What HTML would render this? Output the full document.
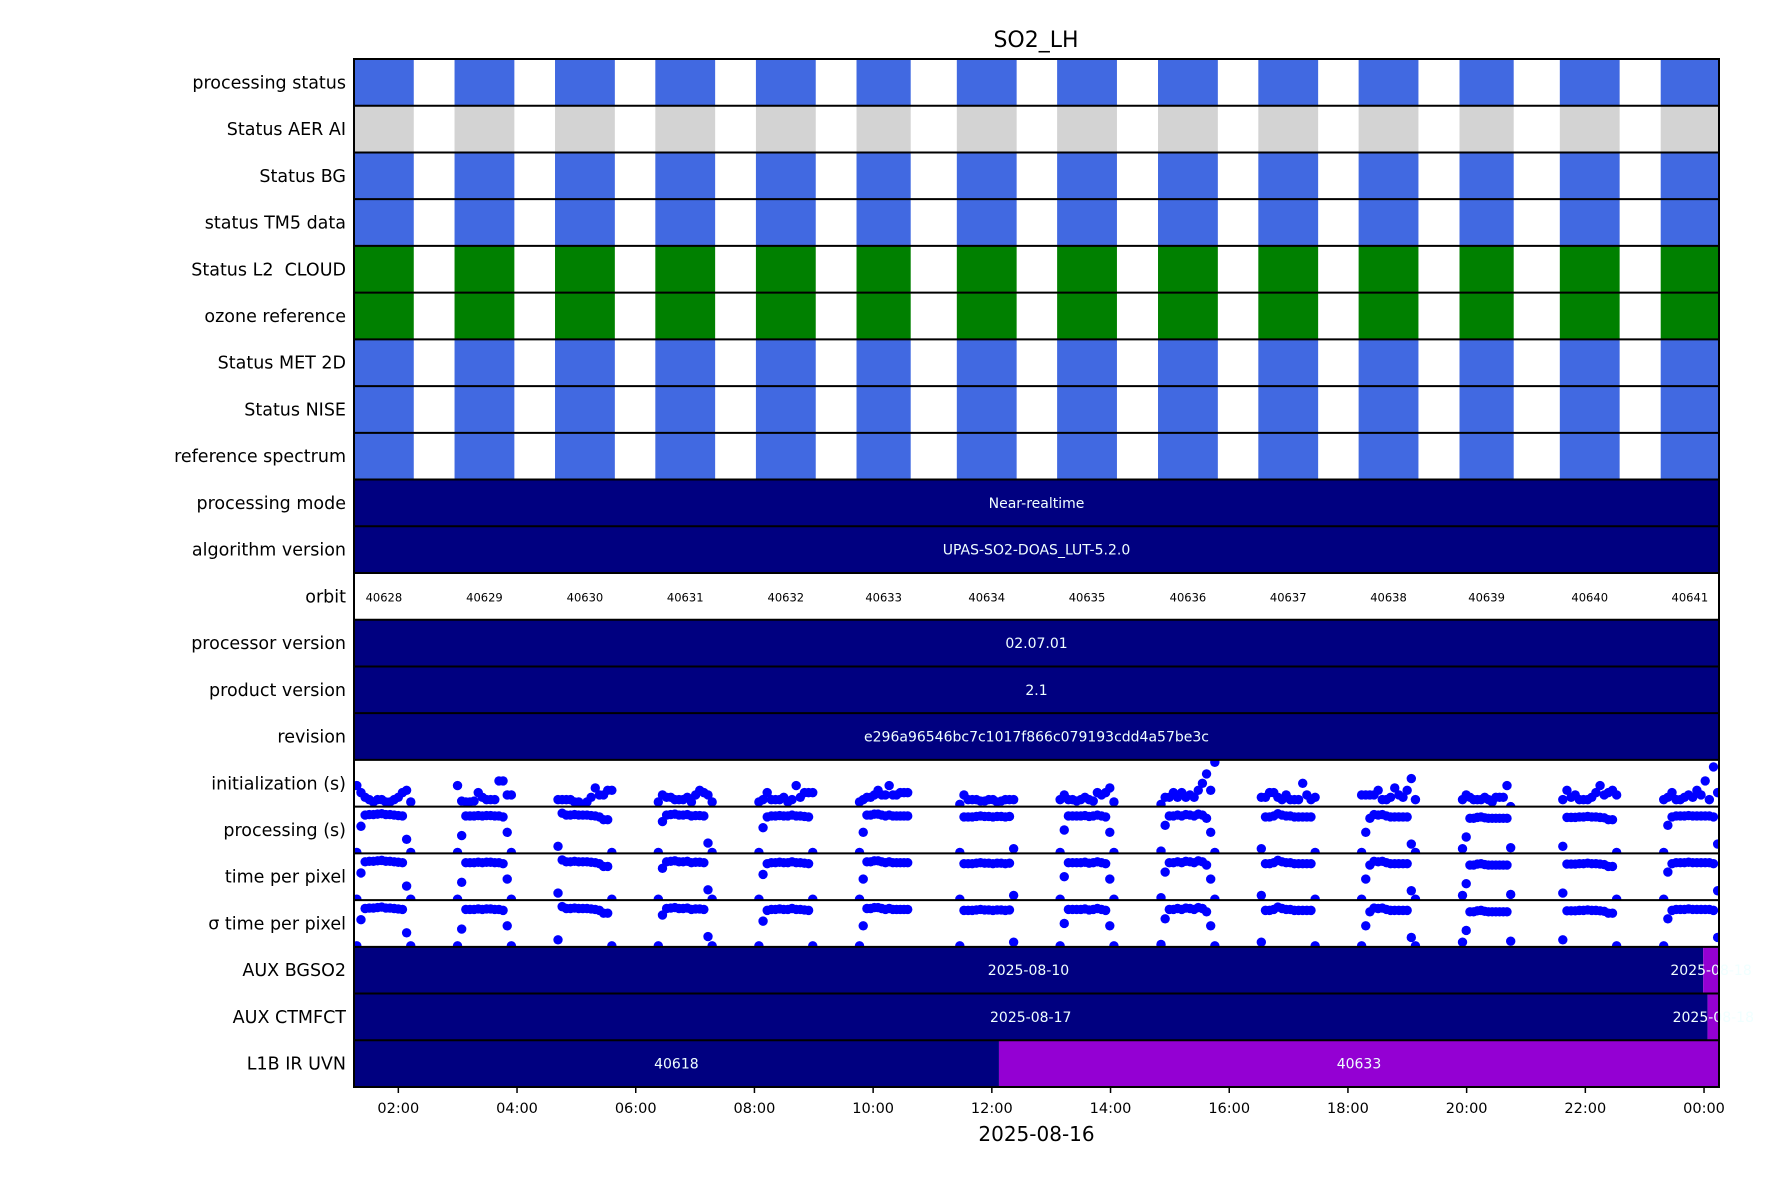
<!DOCTYPE html>
<html><head><meta charset="utf-8">
<style>
html,body{margin:0;padding:0;background:#fff;}
svg text{font-family:"DejaVu Sans","Liberation Sans",sans-serif;white-space:pre;}
</style></head>
<body>
<svg id="chart" xmlns="http://www.w3.org/2000/svg" width="1771" height="1181" viewBox="0 0 1771 1181">
<rect x="0" y="0" width="1771" height="1181" fill="#fff"/>
<text x="1036" y="47" font-size="22" text-anchor="middle" fill="#000">SO2_LH</text>
<g id="rows"></g>
<g id="axis"></g>
</svg>
<script>
// ---- data ----
const rowLabels = ["processing status","Status AER AI","Status BG","status TM5 data","Status L2  CLOUD","ozone reference","Status MET 2D","Status NISE","reference spectrum","processing mode","algorithm version","orbit","processor version","product version","revision","initialization (s)","processing (s)","time per pixel","\u03c3 time per pixel","AUX BGSO2","AUX CTMFCT","L1B IR UVN"];
const statusColors = ["#4169e1","#d3d3d3","#4169e1","#4169e1","#008000","#008000","#4169e1","#4169e1","#4169e1"];
const segStart = [1.25,2.947,4.64,6.33,8.025,9.72,11.41,13.10,14.80,16.49,18.18,19.88,21.57,23.27];
const segEnd   = [2.26,3.955,5.648,7.338,9.033,10.633,12.418,14.108,15.808,17.498,19.188,20.793,22.578,24.28];
const orbits = ["40628","40629","40630","40631","40632","40633","40634","40635","40636","40637","40638","40639","40640","40641"];
const constRows = [{row:9,text:"Near-realtime"},{row:10,text:"UPAS-SO2-DOAS_LUT-5.2.0"},{row:12,text:"02.07.01"},{row:13,text:"2.1"},{row:14,text:"e296a96546bc7c1017f866c079193cdd4a57be3c"}];
const auxBgStarts = [1.25,23.985]; const auxBgLabels = ["2025-08-10","2025-08-18"];
const auxCtStarts = [1.25,24.06]; const auxCtLabels = ["2025-08-17","2025-08-18"];
const l1bStarts = [1.25,12.12]; const l1bLabels = ["40618","40633"];
const initVals = [
[0.45,0.3,0.2,0.15,0.1,0.15,0.15,0.1,0.1,0.15,0.2,0.3,0.35,0.1],
[0.45,0.12,0.1,0.1,0.12,0.3,0.2,0.15,0.15,0.15,0.55,0.55,0.25,0.25],
[0.15,0.15,0.15,0.15,0.1,0.1,0.05,0.1,0.2,0.4,0.25,0.25,0.35,0.35],
[0.1,0.25,0.2,0.2,0.15,0.15,0.15,0.2,0.1,0.25,0.35,0.3,0.25,0.1],
[0.1,0.15,0.3,0.15,0.15,0.15,0.2,0.1,0.15,0.45,0.2,0.3,0.3,0.3],
[0.1,0.15,0.2,0.2,0.25,0.35,0.25,0.25,0.45,0.25,0.25,0.3,0.3,0.3],
[0.05,0.25,0.15,0.15,0.15,0.12,0.12,0.15,0.15,0.1,0.12,0.15,0.15,0.15],
[0.15,0.25,0.15,0.15,0.12,0.15,0.2,0.15,0.12,0.3,0.25,0.3,0.4,0.1],
[0.05,0.2,0.2,0.3,0.2,0.3,0.2,0.25,0.2,0.35,0.5,0.7,0.35,0.95],
[0.2,0.2,0.3,0.3,0.2,0.15,0.25,0.15,0.15,0.15,0.5,0.25,0.15,0.2],
[0.25,0.25,0.25,0.25,0.35,0.15,0.15,0.2,0.4,0.25,0.2,0.35,0.6,0.15],
[0.15,0.25,0.2,0.15,0.15,0.15,0.2,0.15,0.1,0.2,0.2,0.2,0.45,0.0],
[0.15,0.35,0.2,0.25,0.15,0.15,0.15,0.2,0.3,0.45,0.25,0.3,0.35,0.25],
[0.15,0.2,0.3,0.15,0.15,0.2,0.25,0.2,0.35,0.25,0.55,0.15,0.85,0.3]];
const procVals = [
[0.02,0.58,0.82,0.83,0.83,0.84,0.85,0.83,0.83,0.82,0.81,0.8,0.3,0.02],
[0.02,0.38,0.8,0.8,0.8,0.81,0.8,0.81,0.81,0.8,0.8,0.78,0.45,0.02],
[0.15,0.86,0.82,0.82,0.83,0.82,0.82,0.82,0.81,0.8,0.78,0.72,0.72,0.02],
[0.02,0.68,0.82,0.83,0.84,0.82,0.82,0.83,0.8,0.81,0.81,0.8,0.22,0.02],
[0.02,0.55,0.78,0.8,0.8,0.81,0.8,0.8,0.82,0.8,0.8,0.79,0.78,0.02],
[0.02,0.45,0.82,0.82,0.84,0.84,0.82,0.8,0.82,0.8,0.8,0.8,0.8,0.8],
[0.02,0.78,0.78,0.78,0.79,0.8,0.79,0.79,0.78,0.79,0.79,0.78,0.79,0.1],
[0.02,0.5,0.8,0.8,0.8,0.8,0.81,0.79,0.8,0.82,0.8,0.78,0.45,0.02],
[0.05,0.6,0.8,0.8,0.82,0.8,0.83,0.82,0.8,0.84,0.82,0.75,0.45,0.02],
[0.1,0.78,0.78,0.8,0.85,0.82,0.8,0.8,0.78,0.78,0.78,0.78,0.78,0.02],
[0.02,0.45,0.75,0.83,0.82,0.83,0.8,0.78,0.78,0.78,0.78,0.78,0.2,0.02],
[0.1,0.35,0.75,0.75,0.77,0.78,0.76,0.75,0.75,0.75,0.75,0.75,0.75,0.12],
[0.15,0.77,0.77,0.77,0.78,0.78,0.79,0.78,0.78,0.77,0.76,0.72,0.72,0.02],
[0.02,0.6,0.78,0.8,0.8,0.8,0.81,0.8,0.8,0.8,0.8,0.8,0.78,0.2]];
const tppVals = procVals.map(s => s.slice());
const sigVals = procVals.map(s => s.slice());
const xTickLabels = ["02:00","04:00","06:00","08:00","10:00","12:00","14:00","16:00","18:00","20:00","22:00","00:00"];
const xTickHours = [2,4,6,8,10,12,14,16,18,20,22,24];

// ---- layout ----
const X0=354, X1=1719, Y0=59, Y1=1087, NR=rowLabels.length, RH=(Y1-Y0)/NR;
const H0=1.253, H1=1.253+(X1-X0)/59.35;
const NS="http://www.w3.org/2000/svg";
function xs(h){return X0+(h-H0)*(X1-X0)/(H1-H0);}
function ry(i){return Y0+i*RH;}
function mk(tag,attrs,parent){const e=document.createElementNS(NS,tag);for(const k in attrs)e.setAttribute(k,attrs[k]);parent.appendChild(e);return e;}
const rows=document.getElementById('rows'), axis=document.getElementById('axis');
const defs=mk('defs',{},rows);
const cp=mk('clipPath',{id:'plotclip'},defs); mk('rect',{x:X0,y:Y0,width:X1-X0,height:Y1-Y0},cp);
for(let i=0;i<NR;i++){const c=mk('clipPath',{id:'rc'+i},defs);mk('rect',{x:X0,y:ry(i),width:X1-X0,height:RH},c);}

// status rows
statusColors.forEach((col,i)=>{
  const g=mk('g',{'clip-path':'url(#rc'+i+')'},rows);
  
  
  segStart.forEach((s,k)=>{
    const r=mk('rect',{x:xs(s),y:ry(i),width:xs(segEnd[k])-xs(s),height:RH,fill:col},g);
    
    
  });
});
// constant text rows
constRows.forEach(c=>{
  const r=mk('rect',{x:X0,y:ry(c.row),width:X1-X0,height:RH,fill:'#000080'},rows);
  
  
  const t=mk('text',{x:(X0+X1)/2,y:ry(c.row)+RH/2+5,'font-size':14,'text-anchor':'middle',fill:'#f0ffff'},rows);
  t.textContent=c.text;
  
  
});
// orbit row
orbits.forEach((o,k)=>{
  const a=Math.max(xs(segStart[k]),X0), b=Math.min(xs(segEnd[k]),X1);
  const t=mk('text',{x:(a+b)/2,y:ry(11)+RH/2+5,'font-size':11.5,'text-anchor':'middle',fill:'#000'},rows);
  t.textContent=o;
  
  
});
// aux rows
function auxRow(i,starts,labels){
  const cols=['#000080','#9400d3'];
  starts.forEach((s,k)=>{
    const e=k+1<starts.length?starts[k+1]:H1;
    const a=xs(s), b=Math.min(xs(e),X1);
    const r=mk('rect',{x:a,y:ry(i),width:b-a,height:RH,fill:cols[k%2]},rows);
    
    
  });
  starts.forEach((s,k)=>{
    const e=k+1<starts.length?starts[k+1]:H1;
    const a=xs(s), b=Math.min(xs(e),X1);
    const t=mk('text',{x:(a+b)/2,y:ry(i)+RH/2+5,'font-size':14,'text-anchor':'middle',fill:'#f0ffff'},rows);
    t.textContent=labels[k];
    
    
  });
}
auxRow(19,auxBgStarts,auxBgLabels);
auxRow(20,auxCtStarts,auxCtLabels);
auxRow(21,l1bStarts,l1bLabels);
// scatter rows
function scatterRow(i,vals){
  const g=mk('g',{'clip-path':'url(#rc'+i+')'},rows);
  
  
  vals.forEach((seg,k)=>{
    const n=seg.length, a=xs(segStart[k]), b=xs(segEnd[k]);
    seg.forEach((v,j)=>{
      const cx=a+3+(b-a-6)*j/(n-1);
      const cy=ry(i)+RH-v*RH;
      const c=mk('circle',{cx:cx,cy:cy,r:4.7,fill:'#0000ff'},g);
      
      
    });
  });
}
scatterRow(15,initVals);
scatterRow(16,procVals);
scatterRow(17,tppVals);
scatterRow(18,sigVals);
// row grid lines and labels
for(let i=0;i<NR;i++){
  if(i>0){const l=mk('line',{x1:X0,x2:X1,y1:ry(i),y2:ry(i),stroke:'#000','stroke-width':2},axis);
    
    }
  const t=mk('text',{x:X0-8,y:ry(i)+RH/2+6,'font-size':17.5,'text-anchor':'end',fill:'#000'},axis);
  t.textContent=rowLabels[i];
  
  
}
const fr=mk('rect',{x:X0,y:Y0,width:X1-X0,height:Y1-Y0,fill:'none',stroke:'#000','stroke-width':2},axis);


xTickHours.forEach((h,k)=>{
  const x=xs(h);
  const l=mk('line',{x1:x,x2:x,y1:Y1,y2:Y1+6,stroke:'#000','stroke-width':1.5},axis);
  
  
  const t=mk('text',{x:x,y:Y1+26,'font-size':14.5,'text-anchor':'middle',fill:'#000'},axis);
  t.textContent=xTickLabels[k];
  
  
});
const xl=mk('text',{x:(X0+X1)/2,y:1141,'font-size':20,'text-anchor':'middle',fill:'#000'},axis);
xl.textContent='2025-08-16';


</script>
</body></html>
